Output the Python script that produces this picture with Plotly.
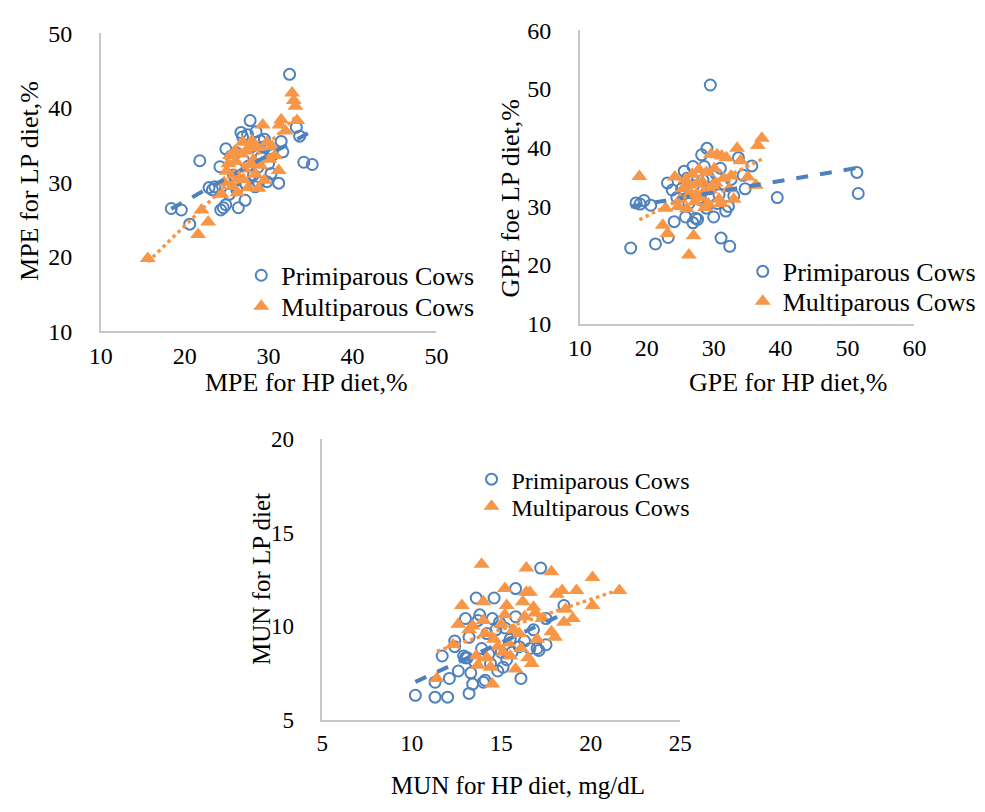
import numpy as np
import plotly.graph_objects as go

# ---------------- DATA ----------------
# MPE panel (x: HP diet, y: LP diet), %
mpe_prim_x = [18.4, 19.6, 20.6, 21.8, 22.9, 23.3, 23.6, 24.2, 24.3, 24.6, 24.9, 24.9, 25.5, 26.1, 26.4,
              26.7, 26.9, 27.2, 27.5, 27.8, 28.2, 28.4, 28.5, 28.8, 29.0, 29.3, 29.5, 29.8, 30.0, 30.3,
              30.5, 31.2, 31.5, 31.7, 32.5, 33.3, 33.7, 34.2, 35.2, 25.8, 26.2, 27.0, 27.6, 28.0, 29.1,
              26.0, 25.3, 27.3, 28.7, 30.1]
mpe_prim_y = [26.5, 26.3, 24.4, 32.9, 29.3, 29.0, 29.4, 32.1, 26.3, 26.6, 27.0, 34.5, 33.5, 34.0, 26.6,
              36.7, 36.1, 27.6, 36.4, 38.3, 31.0, 29.4, 36.8, 30.0, 35.6, 34.7, 35.8, 30.1, 32.5, 31.2,
              33.7, 29.9, 35.5, 34.1, 44.5, 37.4, 36.2, 32.7, 32.4, 31.0, 29.0, 33.0, 32.2, 34.8, 33.4,
              30.2, 28.4, 29.8, 32.0, 34.5]
mpe_multi_x = [15.6, 21.6, 22.0, 22.8, 24.4, 24.7, 25.0, 25.2, 25.4, 25.7, 25.9, 26.1, 26.3, 26.5, 26.7,
               26.9, 27.1, 27.3, 27.6, 27.8, 28.0, 28.2, 28.4, 28.6, 28.8, 29.0, 29.3, 29.5, 29.8, 30.1,
               30.4, 30.8, 31.2, 31.3, 31.5, 32.0, 32.8, 33.0, 33.2, 33.4, 27.0, 27.9, 28.5, 26.0]
mpe_multi_y = [19.8, 23.0, 26.3, 24.7, 28.4, 30.0, 31.5, 32.5, 33.6, 29.5, 31.0, 32.8, 28.6, 30.5, 33.8,
               35.4, 31.8, 34.2, 29.3, 32.4, 35.6, 33.0, 31.1, 34.7, 29.2, 32.3, 37.7, 30.3, 35.4, 33.1,
               34.8, 33.6, 31.6, 37.7, 38.4, 36.9, 42.0, 41.0, 40.2, 38.3, 30.4, 34.6, 32.6, 34.2]

# GPE panel
gpe_prim_x = [17.6, 18.4, 19.0, 19.6, 20.6, 21.3, 23.1, 23.2, 23.8, 24.1, 24.5, 25.2, 25.6, 25.8, 26.3,
              26.9, 26.9, 27.3, 27.6, 27.9, 28.2, 28.4, 28.6, 28.9, 29.0, 29.5, 29.6, 30.0, 30.4, 30.8,
              31.1, 31.5, 31.8, 32.2, 32.4, 32.6, 33.0, 33.7, 34.4, 34.7, 35.7, 39.5, 51.4, 51.6, 27.0,
              28.0, 29.2, 30.5, 26.0, 31.0]
gpe_prim_y = [22.9, 30.6, 30.4, 31.0, 30.2, 23.6, 34.0, 24.7, 32.8, 27.4, 31.5, 33.0, 36.0, 28.2, 30.5,
              27.2, 36.8, 28.0, 27.8, 31.2, 38.8, 34.5, 36.8, 29.7, 39.9, 50.7, 33.2, 28.2, 35.5, 32.0,
              24.6, 33.8, 29.2, 30.0, 23.2, 34.6, 31.8, 38.3, 35.3, 33.0, 36.9, 31.5, 35.8, 32.2, 33.5,
              31.5, 35.0, 30.5, 34.8, 36.5]
gpe_multi_x = [18.9, 22.4, 22.8, 23.1, 24.2, 24.7, 25.0, 25.4, 25.8, 26.0, 26.3, 26.5, 26.8, 27.0, 27.2,
               27.5, 27.8, 28.0, 28.3, 28.6, 28.9, 29.2, 29.6, 29.8, 30.1, 30.5, 30.8, 31.1, 31.2, 31.5,
               31.9, 32.3, 32.6, 33.0, 33.5, 34.0, 35.1, 36.3, 36.6, 37.2, 27.4, 28.7, 29.5, 30.3, 26.2]
gpe_multi_y = [35.1, 26.8, 29.7, 25.4, 35.0, 30.0, 31.2, 33.0, 34.6, 29.6, 21.7, 32.3, 35.5, 25.0, 30.8,
               33.8, 36.3, 31.5, 34.2, 32.6, 35.8, 30.4, 38.9, 33.5, 36.4, 38.8, 31.2, 30.5, 38.6, 34.8,
               38.3, 33.0, 35.2, 31.2, 39.9, 37.8, 35.0, 33.6, 40.4, 41.6, 32.0, 29.8, 32.8, 34.0, 33.6]

# MUN panel (mg/dL)
mun_prim_x = [10.2, 11.3, 11.3, 11.7, 12.0, 12.1, 12.4, 12.4, 12.6, 12.9, 13.0, 13.1, 13.2, 13.2, 13.3,
              13.4, 13.5, 13.6, 13.7, 13.8, 13.9, 14.0, 14.1, 14.2, 14.3, 14.5, 14.6, 14.7, 14.8, 14.9,
              15.0, 15.2, 15.3, 15.5, 15.6, 15.8, 15.8, 16.0, 16.1, 16.3, 16.6, 16.8, 17.0, 17.1, 17.2,
              17.5, 17.5, 18.5, 14.4, 13.0, 15.1]
mun_prim_y = [6.3, 6.2, 7.0, 8.4, 6.2, 7.2, 9.2, 8.9, 7.6, 8.4, 10.4, 8.3, 6.4, 9.4, 7.5,
              6.9, 8.1, 11.5, 10.3, 10.6, 8.8, 7.0, 7.1, 9.6, 8.5, 10.4, 11.5, 9.8, 7.6, 10.2,
              8.6, 9.9, 8.2, 9.3, 8.6, 10.5, 12.0, 8.9, 7.2, 9.2, 8.8, 9.8, 8.8, 8.7, 13.1,
              10.4, 9.0, 11.1, 8.0, 8.3, 7.8]
mun_multi_x = [11.4, 12.3, 12.6, 12.8, 13.2, 13.4, 13.6, 13.7, 13.9, 14.0, 14.0, 14.1, 14.2, 14.4, 14.5,
               14.6, 14.8, 15.0, 15.1, 15.2, 15.2, 15.3, 15.4, 15.5, 15.7, 15.8, 16.0, 16.1, 16.2, 16.3,
               16.4, 16.4, 16.5, 16.6, 16.7, 16.8, 16.9, 17.0, 17.3, 17.8, 17.8, 18.0, 18.1, 18.4, 18.5,
               18.6, 19.0, 19.2, 20.1, 20.1, 21.6]
mun_multi_y = [7.2, 9.0, 10.1, 11.1, 9.8, 10.0, 8.4, 7.9, 13.3, 11.3, 10.3, 9.6, 8.3, 7.8, 6.9,
               9.3, 8.9, 10.1, 8.6, 12.0, 10.6, 11.1, 9.1, 8.4, 9.8, 7.7, 9.6, 8.8, 11.3, 10.5,
               13.1, 11.8, 8.3, 11.8, 8.0, 11.0, 10.7, 9.3, 10.4, 12.9, 9.7, 9.4, 11.7, 11.9, 10.2,
               10.9, 10.4, 11.9, 12.6, 11.1, 11.9]

series_names = ["Primiparous Cows", "Multiparous Cows"]
x_titles = ["MPE for HP diet,%", "GPE for HP diet,%", "MUN for HP diet, mg/dL"]
y_titles = ["MPE for LP diet,%", "GPE foe LP diet,%", "MUN for LP diet"]
x_ranges = [(10, 50), (10, 60), (5, 25)]
y_ranges = [(10, 50), (10, 60), (5, 20)]
tick_steps = [10, 10, 5]

# ---------------- STYLE ----------------
W, H = 985, 812
BLUE = "#4F81BD"
ORANGE = "#F79646"
FONT = "Liberation Serif"

def px_x(p):
    return p / W

def px_y(p):
    return 1 - p / H

# panel pixel boxes: (left, right, top, bottom)
boxes = [(91, 435, 21, 329), (582, 925, 18, 321), (318, 685, 440, 730)]

panels = [
    (mpe_prim_x, mpe_prim_y, mpe_multi_x, mpe_multi_y),
    (gpe_prim_x, gpe_prim_y, gpe_multi_x, gpe_multi_y),
    (mun_prim_x, mun_prim_y, mun_multi_x, mun_multi_y),
]
# one single-entry legend per legend row: (left px, row-center px, font size)
legend_rows = [
    [(235, 271, 26), (235, 303, 26)],
    [(749, 267, 26), (749, 298, 26)],
    [(471, 482, 24), (471, 510, 24)],
]

fig = go.Figure()
layout = dict(
    width=W, height=H, margin=dict(l=0, r=0, t=0, b=0),
    paper_bgcolor="white", plot_bgcolor="white",
    font=dict(family=FONT, color="black"),
    showlegend=True,
)

leg_idx = 0
for i, (px_, py_, mx_, my_) in enumerate(panels):
    xa = "x" if i == 0 else f"x{i+1}"
    ya = "y" if i == 0 else f"y{i+1}"
    names = []
    for j in range(2):
        leg_idx += 1
        lname = "legend" if leg_idx == 1 else f"legend{leg_idx}"
        names.append(lname)
        lx, lc, fs = legend_rows[i][j]
        layout[lname] = dict(x=px_x(lx), y=px_y(lc), xanchor="left", yanchor="middle",
                             bgcolor="rgba(0,0,0,0)",
                             font=dict(size=fs, family=FONT, color="black"), itemwidth=30)
    fig.add_trace(go.Scatter(
        x=px_, y=py_, mode="markers", name=series_names[0], xaxis=xa, yaxis=ya,
        legend=names[0],
        marker=dict(symbol="circle-open", size=11, color=BLUE, line=dict(width=2, color=BLUE))))
    fig.add_trace(go.Scatter(
        x=mx_, y=my_, mode="markers", name=series_names[1], xaxis=xa, yaxis=ya,
        legend=names[1],
        marker=dict(symbol="triangle-up", size=14, color=ORANGE, line=dict(width=0))))
    # linear trendlines computed from the data
    for xs, ys, col, dash, w in [(px_, py_, BLUE, "dash", 4), (mx_, my_, ORANGE, "dot", 3.5)]:
        xs_a = np.array(xs)
        k, b = np.polyfit(xs_a, np.array(ys), 1)
        xl = np.array([xs_a.min(), xs_a.max()])
        fig.add_trace(go.Scatter(
            x=xl, y=k * xl + b, mode="lines", xaxis=xa, yaxis=ya, showlegend=False,
            hoverinfo="skip", line=dict(color=col, dash=dash, width=w)))

tick_sizes = [24, 24, 23]
for i, (l, r, t, b) in enumerate(boxes):
    xk = "xaxis" if i == 0 else f"xaxis{i+1}"
    yk = "yaxis" if i == 0 else f"yaxis{i+1}"
    ya = "y" if i == 0 else f"y{i+1}"
    xa = "x" if i == 0 else f"x{i+1}"
    layout[xk] = dict(domain=[px_x(l), px_x(r)], range=list(x_ranges[i]), dtick=tick_steps[i],
                      tick0=x_ranges[i][0], anchor=ya, showline=True, linecolor="#c8c8c8",
                      linewidth=1.5, showgrid=False, zeroline=False, ticks="",
                      ticklabelstandoff=2, tickfont=dict(size=tick_sizes[i], family=FONT))
    layout[yk] = dict(domain=[px_y(b), px_y(t)], range=list(y_ranges[i]), dtick=tick_steps[i],
                      tick0=y_ranges[i][0], anchor=xa, showline=True, linecolor="#c8c8c8",
                      linewidth=1.5, showgrid=False, zeroline=False, ticks="",
                      ticklabelstandoff=22, tickfont=dict(size=tick_sizes[i], family=FONT))

fig.update_layout(**layout)

# axis titles
xt_pos = [(302, 382, 26), (795, 382, 26), (519, 798, 25)]
yt_pos = [(18, 174, 26), (511, 192, 26), (256, 585, 25)]
for i in range(3):
    x0, y0, fs = xt_pos[i]
    fig.add_annotation(x=px_x(x0), y=px_y(y0), xref="paper", yref="paper", text=x_titles[i],
                       showarrow=False, xanchor="center", yanchor="middle",
                       font=dict(size=fs, family=FONT, color="black"))
    x1, y1, fs = yt_pos[i]
    fig.add_annotation(x=px_x(x1), y=px_y(y1), xref="paper", yref="paper", text=y_titles[i],
                       showarrow=False, xanchor="center", yanchor="middle", textangle=-90,
                       font=dict(size=fs, family=FONT, color="black"))

fig.write_html("out.html")
